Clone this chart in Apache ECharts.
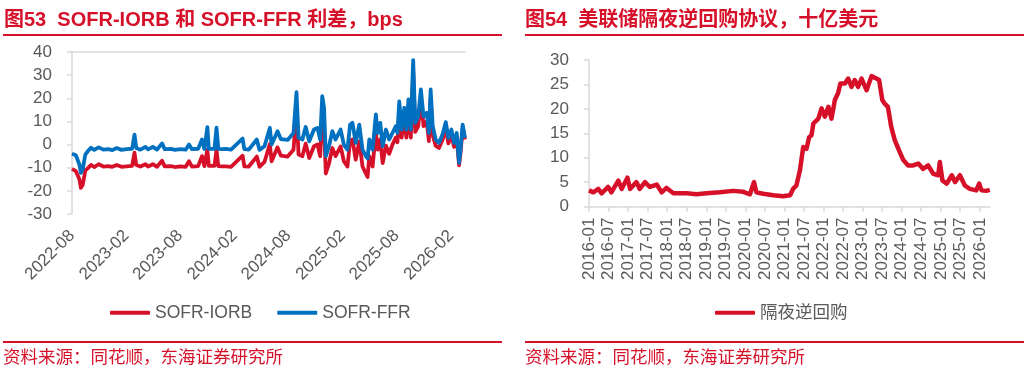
<!DOCTYPE html>
<html>
<head>
<meta charset="utf-8">
<script src="https://cdn.jsdelivr.net/npm/echarts@6/dist/echarts.min.js"></script>
<style>
html,body{margin:0;padding:0;background:#fff;}
#c{width:1035px;height:381px;}
</style>
</head>
<body>
<div id="c"></div>
<script>
// ---------- Left chart: SOFR-IORB / SOFR-FFR spreads (bps) ----------
const sofrDates = [
'2022-08-01','2022-08-14','2022-08-26','2022-08-31','2022-09-06','2022-09-15','2022-09-23','2022-10-04','2022-10-15','2022-10-30',
'2022-11-15','2022-12-01','2022-12-15','2022-12-30','2023-01-15','2023-02-01','2023-02-20','2023-02-28','2023-03-06','2023-03-20',
'2023-04-06','2023-04-15','2023-05-01','2023-05-15','2023-06-01','2023-06-10','2023-07-01','2023-07-15','2023-08-01','2023-08-20',
'2023-08-31','2023-09-10','2023-10-01','2023-10-14','2023-10-22','2023-11-01','2023-11-06','2023-11-25','2023-12-02','2023-12-08',
'2023-12-20','2024-01-02','2024-01-20','2024-02-28','2024-03-05','2024-03-20','2024-04-16','2024-04-25','2024-05-12','2024-05-30',
'2024-06-05','2024-06-25','2024-07-06','2024-07-29','2024-08-18','2024-08-28','2024-09-04','2024-09-17','2024-09-28','2024-10-10',
'2024-10-26','2024-11-07','2024-11-16','2024-11-23','2024-11-29','2024-12-05','2024-12-16','2024-12-27','2025-01-07','2025-01-24',
'2025-02-04','2025-02-16','2025-02-25','2025-03-05','2025-03-16','2025-03-28','2025-04-08','2025-04-19','2025-04-25','2025-05-01',
'2025-05-12','2025-05-23','2025-05-29','2025-06-07','2025-06-15','2025-06-26','2025-07-07','2025-07-18','2025-07-29','2025-08-04',
'2025-08-10','2025-08-18','2025-08-27','2025-09-03','2025-09-10','2025-09-18','2025-09-26','2025-10-03','2025-10-13','2025-10-22',
'2025-10-31','2025-11-11','2025-11-18','2025-11-24','2025-12-01','2025-12-11','2025-12-22','2026-01-03','2026-01-14','2026-01-23',
'2026-02-02','2026-02-11','2026-02-20','2026-02-28','2026-03-05','2026-03-12','2026-03-20'
];
const sofrFfr = [
-4.0,-4.6,-8.6,-12.2,-10.8,-4.3,-2.9,-1.4,-2.3,-1.2,
-2.2,-2.0,-2.4,-1.5,-2.3,-2.0,-1.8,4.3,-1.5,-2.2,
-1.0,-2.1,-1.0,-2.2,0.5,-2.0,-1.9,-2.3,-2.0,-2.2,
0.0,-2.0,-1.8,2.2,-1.9,7.5,-1.9,-1.8,7.3,-1.9,
-2.0,-1.9,-2.2,2.6,-2.0,-2.2,2.2,-2.3,-0.7,7.2,
0.0,5.8,2.4,2.0,5.0,22.6,2.9,2.2,7.6,1.4,
6.5,7.2,2.2,20.9,15.9,-5.0,-0.7,5.8,2.2,6.5,
0.0,-2.2,8.6,9.4,0.7,8.6,-2.2,-5.0,-6.0,2.2,
-2.2,13.0,5.0,9.4,-0.7,6.5,2.2,5.0,7.9,5.0,
18.7,6.5,15.9,6.5,19.5,6.5,36.5,9.4,12.2,23.8,
12.2,13.7,5.0,23.8,7.9,2.2,0.7,4.3,9.7,2.9,
6.5,0.7,5.0,-7.9,-2.2,8.6,2.9
];
const sofrIorb = [
-10.5,-11.5,-15.0,-18.7,-17.5,-11.2,-10.3,-8.8,-9.7,-8.5,
-9.5,-9.3,-9.6,-8.8,-9.6,-9.4,-9.2,-3.5,-8.8,-9.5,
-8.5,-9.5,-8.5,-9.6,-7.0,-9.4,-9.3,-9.7,-9.4,-9.6,
-7.2,-9.5,-9.3,-5.0,-9.3,-2.2,-9.2,-9.2,-2.3,-9.3,
-9.4,-9.4,-9.6,-4.8,-9.4,-9.5,-5.2,-9.6,-7.5,0.2,
-7.2,-1.2,-4.8,-5.2,-2.2,15.0,-4.3,-5.0,0.4,-5.8,
-0.7,0.0,-5.0,13.7,8.7,-12.5,-8.0,-1.5,-5.0,-0.8,
-7.2,-9.5,1.4,2.2,-6.5,1.4,-9.5,-12.5,-14.0,-5.0,
-9.5,5.5,-2.2,2.2,-8.0,-0.5,-4.0,0.0,3.0,1.0,
14.0,3.0,12.0,3.0,15.0,3.0,32.0,5.5,8.0,20.0,
8.0,10.0,1.5,20.0,4.0,-0.5,-1.5,2.0,7.0,0.5,
4.0,-1.0,3.0,-9.0,-3.5,7.0,2.2
];
const leftTickLabels = ['2022-08-01','2023-02-01','2023-08-01','2024-02-01','2024-08-01','2025-02-01','2025-08-01','2026-02-01'];

// ---------- Right chart: Fed overnight reverse repo ----------
const rrpDates = [
'2016-01-01','2016-02-10','2016-03-28','2016-04-28','2016-06-28','2016-07-28','2016-10-01','2016-11-01','2016-12-25','2017-01-19',
'2017-03-19','2017-04-19','2017-06-07','2017-07-22','2017-09-25','2017-11-10','2017-12-25','2018-02-28','2018-07-01','2018-10-01',
'2019-01-04','2019-05-07','2019-09-10','2019-12-13','2020-02-13','2020-03-22','2020-04-13','2020-06-16','2020-09-18','2020-12-19',
'2021-02-22','2021-03-22','2021-04-22','2021-05-25','2021-06-25','2021-07-25','2021-08-19','2021-09-10','2021-09-28','2021-11-13',
'2021-12-13','2022-01-13','2022-02-15','2022-03-16','2022-04-16','2022-05-16','2022-06-07','2022-07-19','2022-08-19','2022-09-19',
'2022-10-19','2022-11-19','2022-12-22','2023-02-07','2023-03-25','2023-05-10','2023-06-04','2023-07-04','2023-07-25','2023-08-25',
'2023-09-25','2023-10-28','2023-12-13','2024-01-16','2024-03-01','2024-04-16','2024-06-04','2024-07-19','2024-09-04','2024-10-22',
'2024-12-07','2024-12-22','2025-01-16','2025-02-25','2025-04-13','2025-05-13','2025-06-28','2025-08-13','2025-09-28','2025-11-28',
'2025-12-25','2026-01-16','2026-03-01','2026-04-03'
];
const rrpValues = [
3.3,2.9,3.6,2.7,4.0,2.9,5.3,3.6,5.9,3.6,
5.0,3.6,5.0,4.0,4.5,2.9,3.8,2.7,2.7,2.5,
2.7,2.9,3.2,3.0,2.5,5.0,2.9,2.6,2.3,2.1,
2.3,3.6,4.3,7.4,12.2,11.8,14.2,14.6,17.0,18.0,
20.1,18.4,20.4,18.0,21.8,23.2,25.2,25.2,26.2,24.5,
25.9,24.5,26.2,23.8,26.7,26.2,25.9,21.8,21.1,20.4,
16.3,13.6,11.2,9.5,8.4,8.4,8.8,7.7,8.4,6.7,
6.4,9.1,5.3,4.7,6.4,5.0,6.4,4.3,3.6,3.3,
4.7,3.3,3.2,3.4
];
const rightTickLabels = ['2016-01-01','2016-07-01','2017-01-01','2017-07-01','2018-01-01','2018-07-01','2019-01-01','2019-07-01',
'2020-01-01','2020-07-01','2021-01-01','2021-07-01','2022-01-01','2022-07-01','2023-01-01','2023-07-01','2024-01-01','2024-07-01',
'2025-01-01','2025-07-01','2026-01-01'];

const ts = s => new Date(s + 'T00:00:00').getTime();
const ym = v => { const d = new Date(v); return d.getFullYear() + '-' + String(d.getMonth() + 1).padStart(2, '0'); };

const RED = '#D7102A', BLUE = '#0070C0', GRAY = '#595959', AXIS = '#D9D9D9';
const FONT = '"Liberation Sans", Arial, "Noto Sans CJK SC", sans-serif';

const chart = echarts.init(document.getElementById('c'), null, {renderer: 'canvas'});

chart.setOption({
  animation: false,
  backgroundColor: '#fff',
  textStyle: {fontFamily: FONT},
  graphic: [
    {type: 'text', left: 4, top: 10, style: {text: '图53  SOFR-IORB 和 SOFR-FFR 利差，bps', fill: RED, font: 'bold 20px ' + FONT}},
    {type: 'rect', shape: {x: 3, y: 34, width: 499, height: 2}, style: {fill: RED}},
    {type: 'rect', shape: {x: 3, y: 341, width: 499, height: 2}, style: {fill: RED}},
    {type: 'text', left: 3, top: 349, style: {text: '资料来源：同花顺，东海证券研究所', fill: RED, font: '17.5px ' + FONT}},
    {type: 'text', left: 525, top: 10, style: {text: '图54  美联储隔夜逆回购协议，十亿美元', fill: RED, font: 'bold 20px ' + FONT}},
    {type: 'rect', shape: {x: 525, y: 34, width: 499, height: 2}, style: {fill: RED}},
    {type: 'rect', shape: {x: 525, y: 341, width: 499, height: 2}, style: {fill: RED}},
    {type: 'text', left: 525, top: 349, style: {text: '资料来源：同花顺，东海证券研究所', fill: RED, font: '17.5px ' + FONT}}
  ],
  legend: [
    {
      left: 105, top: 299, itemWidth: 40, itemHeight: 4, itemGap: 25, icon: 'roundRect',
      textStyle: {color: GRAY, fontSize: 17.5, fontFamily: FONT},
      data: ['SOFR-IORB', 'SOFR-FFR']
    },
    {
      left: 710, top: 299, itemWidth: 40, itemHeight: 4, icon: 'roundRect',
      textStyle: {color: GRAY, fontSize: 17.5, fontFamily: FONT},
      data: ['隔夜逆回购']
    }
  ],
  grid: [
    {left: 72, top: 52, width: 393, height: 162, containLabel: false},
    {left: 589, top: 60, width: 401, height: 146.5, containLabel: false}
  ],
  xAxis: [
    {
      type: 'value', gridIndex: 0, min: ts('2022-08-01'), max: ts('2026-03-20'),
      axisLine: {show: false}, axisTick: {show: false}, splitLine: {show: false},
      axisLabel: {
        color: GRAY, fontSize: 17, rotate: 45, margin: 19,
        customValues: leftTickLabels.map(ts), formatter: ym
      }
    },
    {
      type: 'value', gridIndex: 0, min: ts('2022-08-01'), max: ts('2026-03-20'),
      axisLine: {show: true, onZero: true, lineStyle: {color: AXIS, width: 1.5}},
      axisTick: {show: false}, axisLabel: {show: false}, splitLine: {show: false}
    },
    {
      type: 'value', gridIndex: 1, min: ts('2016-01-01'), max: ts('2026-04-05'),
      axisLine: {show: true, lineStyle: {color: AXIS, width: 1.5}},
      axisTick: {show: true, length: 5, lineStyle: {color: AXIS, width: 1.5}, customValues: rightTickLabels.map(ts)},
      splitLine: {show: false},
      axisLabel: {
        color: GRAY, fontSize: 17, rotate: 90, margin: 11,
        customValues: rightTickLabels.map(ts), formatter: ym
      }
    }
  ],
  yAxis: [
    {
      type: 'value', gridIndex: 0, min: -30, max: 40, interval: 10,
      axisLine: {show: true, onZero: false, lineStyle: {color: AXIS, width: 1.5}},
      axisTick: {show: true, length: 5, lineStyle: {color: AXIS, width: 1.5}},
      splitLine: {show: false},
      axisLabel: {color: GRAY, fontSize: 17, margin: 20}
    },
    {
      type: 'value', gridIndex: 1, min: 0, max: 30, interval: 5,
      axisLine: {show: true, onZero: false, lineStyle: {color: AXIS, width: 1.5}},
      axisTick: {show: true, length: 5, lineStyle: {color: AXIS, width: 1.5}},
      splitLine: {show: false},
      axisLabel: {color: GRAY, fontSize: 17, margin: 20}
    }
  ],
  series: [
    {
      name: 'SOFR-IORB', type: 'line', xAxisIndex: 0, yAxisIndex: 0, symbol: 'none',
      itemStyle: {color: RED}, lineStyle: {color: RED, width: 3.8, join: 'round'},
      data: sofrDates.map((d, i) => [ts(d), sofrIorb[i]])
    },
    {
      name: 'SOFR-FFR', type: 'line', xAxisIndex: 0, yAxisIndex: 0, symbol: 'none',
      itemStyle: {color: BLUE}, lineStyle: {color: BLUE, width: 3.8, join: 'round'},
      data: sofrDates.map((d, i) => [ts(d), sofrFfr[i]])
    },
    {
      name: '隔夜逆回购', type: 'line', xAxisIndex: 2, yAxisIndex: 1, symbol: 'none',
      itemStyle: {color: RED}, lineStyle: {color: RED, width: 4.5, join: 'round'},
      data: rrpDates.map((d, i) => [ts(d), rrpValues[i]])
    }
  ]
});
</script>
</body>
</html>
